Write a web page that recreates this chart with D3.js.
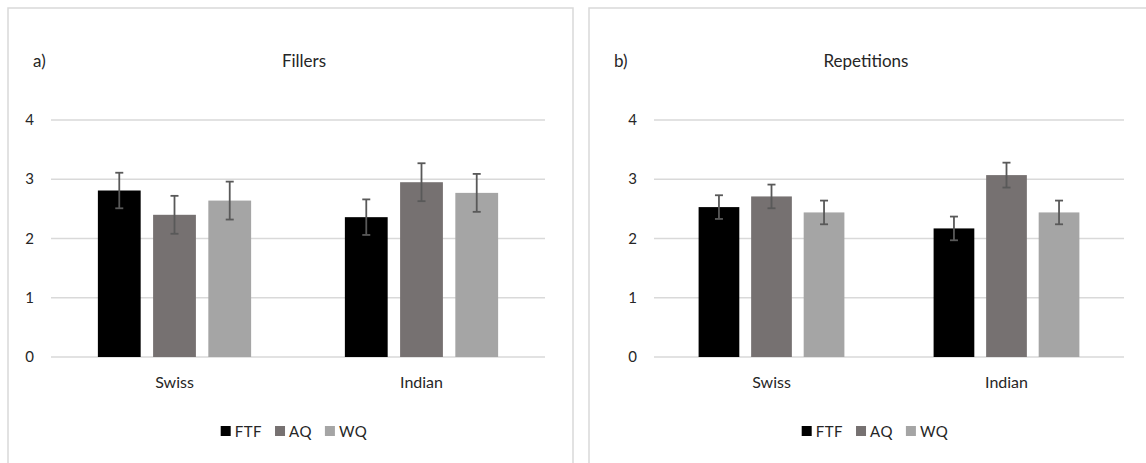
<!DOCTYPE html>
<html>
<head>
<meta charset="utf-8">
<script src="https://cdn.jsdelivr.net/npm/d3@7"></script>
<style>
	body { margin: 0; background: #fff; }
	text { font-family: Lato, "Open Sans", sans-serif; fill: #262626; }
</style>
</head>
<body>
<div id="svg-container"></div>
<script>

// DATA
const categories = ["Swiss", "Indian"];
const series = ["FTF", "AQ", "WQ"];
const yTicks = [0, 1, 2, 3, 4];

// fillers (a)
const fillersFTF = [2.81, 2.36];
const fillersAQ = [2.40, 2.95];
const fillersWQ = [2.64, 2.77];
const fillersErrFTF = [0.30, 0.30];
const fillersErrAQ = [0.32, 0.32];
const fillersErrWQ = [0.32, 0.32];

// repetitions (b)
const repsFTF = [2.53, 2.17];
const repsAQ = [2.71, 3.07];
const repsWQ = [2.44, 2.44];
const repsErrFTF = [0.20, 0.20];
const repsErrAQ = [0.20, 0.21];
const repsErrWQ = [0.20, 0.20];

const colors = ["#000000", "#767171", "#a5a5a5"];


// ONE PANEL
function drawPanel(svg, p) {
	const g = svg.append("g");

	// chart area border
	g.append("rect")
		.attr("x", p.left)
		.attr("y", 8)
		.attr("width", 565)
		.attr("height", 480)
		.attr("fill", "none")
		.attr("stroke", "#d9d9d9")
		.attr("stroke-width", 1.5);

	// scales
	const x0 = d3.scaleBand()
		.domain(categories)
		.range([p.plotL, p.plotR]);
	const bw = x0.bandwidth() / 5.77;
	const groupW = bw * 3.58;
	const x1 = d3.scaleBand()
		.domain(series)
		.range([0, groupW])
		.paddingInner(0.225);
	const y = d3.scaleLinear()
		.domain([0, 4])
		.range([357, 120]);

	// gridlines
	g.selectAll(".grid")
		.data(yTicks)
		.enter()
		.append("line")
		.attr("x1", p.plotL)
		.attr("x2", p.plotR)
		.attr("y1", d => y(d))
		.attr("y2", d => y(d))
		.attr("stroke", "#d9d9d9")
		.attr("stroke-width", 1.6);

	// y labels
	g.selectAll(".ylab")
		.data(yTicks)
		.enter()
		.append("text")
		.attr("x", p.plotL - 17)
		.attr("y", d => y(d) + 5)
		.attr("text-anchor", "end")
		.attr("font-size", 15)
		.text(d => d);

	// rows of {cat, ser, v, e}
	const rows = [];
	categories.forEach((c, i) => {
		series.forEach((s, j) => {
			rows.push({ cat: c, ser: s, j: j, v: p.values[j][i], e: p.errors[j][i] });
		});
	});
	const bx = d => x0(d.cat) + (x0.bandwidth() - groupW) / 2 + x1(d.ser);

	// bars
	g.selectAll(".bar")
		.data(rows)
		.enter()
		.append("rect")
		.attr("x", bx)
		.attr("y", d => y(d.v))
		.attr("width", x1.bandwidth())
		.attr("height", d => y(0) - y(d.v))
		.attr("fill", d => colors[d.j]);

	// error bars
	const eb = g.selectAll(".err")
		.data(rows)
		.enter()
		.append("g")
		.attr("stroke", "#595959")
		.attr("stroke-width", 1.8);
	const cx = d => bx(d) + x1.bandwidth() / 2;
	eb.append("line")
		.attr("x1", cx).attr("x2", cx)
		.attr("y1", d => y(d.v + d.e))
		.attr("y2", d => y(d.v - d.e));
	eb.append("line")
		.attr("x1", d => cx(d) - 4).attr("x2", d => cx(d) + 4)
		.attr("y1", d => y(d.v + d.e))
		.attr("y2", d => y(d.v + d.e));
	eb.append("line")
		.attr("x1", d => cx(d) - 4).attr("x2", d => cx(d) + 4)
		.attr("y1", d => y(d.v - d.e))
		.attr("y2", d => y(d.v - d.e));

	// category labels
	g.selectAll(".xlab")
		.data(categories)
		.enter()
		.append("text")
		.attr("x", d => x0(d) + x0.bandwidth() / 2)
		.attr("y", 388)
		.attr("text-anchor", "middle")
		.attr("font-size", 16)
		.text(d => d);

	// titles
	g.append("text")
		.attr("x", p.left + 25)
		.attr("y", 67)
		.attr("font-size", 17)
		.text(p.letter);
	g.append("text")
		.attr("x", p.titleX)
		.attr("y", 67)
		.attr("text-anchor", "middle")
		.attr("font-size", 17)
		.text(p.title);

	// legend
	const leg = g.append("g");
	let lx = 0;
	series.forEach((s, j) => {
		leg.append("rect")
			.attr("x", lx)
			.attr("y", 426)
			.attr("width", 10)
			.attr("height", 10)
			.attr("fill", colors[j]);
		const t = leg.append("text")
			.attr("x", lx + 14)
			.attr("y", 437)
			.attr("font-size", 15)
			.attr("letter-spacing", 0.5)
			.text(s);
		lx += 14 + t.node().getComputedTextLength() + 13;
	});
	const legW = lx - 13;
	leg.attr("transform", `translate(${p.legendC - legW / 2},0)`);
}


// DRAW
document.addEventListener('DOMContentLoaded', () => {
	const svg = d3.select("#svg-container")
		.append("svg")
		.attr("width", 1146)
		.attr("height", 463);

	drawPanel(svg, {
		left: 8, plotL: 51, plotR: 545,
		letter: "a)", title: "Fillers", titleX: 304, legendC: 294,
		values: [fillersFTF, fillersAQ, fillersWQ],
		errors: [fillersErrFTF, fillersErrAQ, fillersErrWQ]
	});
	drawPanel(svg, {
		left: 589, plotL: 654, plotR: 1124,
		letter: "b)", title: "Repetitions", titleX: 866, legendC: 875,
		values: [repsFTF, repsAQ, repsWQ],
		errors: [repsErrFTF, repsErrAQ, repsErrWQ]
	});
});
</script>
</body>
</html>
